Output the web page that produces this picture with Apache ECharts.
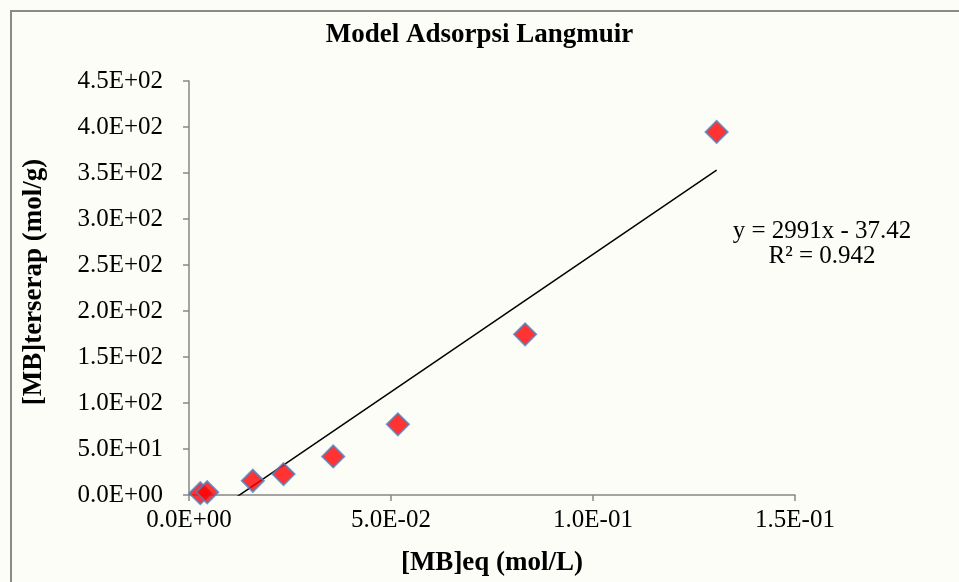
<!DOCTYPE html>
<html>
<head>
<meta charset="utf-8">
<script src="https://cdn.jsdelivr.net/npm/echarts@6/dist/echarts.min.js"></script>
<style>
  html, body { margin: 0; padding: 0; background: #fdfdf8; }
  #chart { width: 959px; height: 582px; }
</style>
</head>
<body>
<div id="chart"></div>
<script>
// [MB]eq (mol/L) and [MB]terserap (mol/g)
const eqValues = [0.0028, 0.0045, 0.0158, 0.0234, 0.0357, 0.0517, 0.0832, 0.1306];
const adsorbed = [2, 3, 15.5, 22.7, 41.9, 76.8, 174.6, 394.7];

// linear trendline printed on the chart
const slope = 2991;
const intercept = -37.42;
const rSquared = 0.942;

const serif = '"Liberation Serif", "Times New Roman", serif';

function sci(v) {
  // 4.5e+2 -> 4.5E+02
  const s = Number(v).toExponential(1);
  const parts = s.split('e');
  const sign = parts[1][0];
  let exp = parts[1].slice(1);
  if (exp.length < 2) exp = '0' + exp;
  return parts[0] + 'E' + sign + exp;
}

const points = eqValues.map((x, i) => [x, adsorbed[i]]);
const xMin = Math.min(...eqValues);
const xMax = Math.max(...eqValues);
const trend = [[xMin, slope * xMin + intercept], [xMax, slope * xMax + intercept]];

const chart = echarts.init(document.getElementById('chart'));
chart.setOption({
  backgroundColor: '#fdfdf8',
  animation: false,
  title: {
    text: 'Model Adsorpsi Langmuir',
    left: 'center',
    top: 17,
    textStyle: {fontFamily: serif, fontSize: 27, fontWeight: 'bold', color: '#000'}
  },
  grid: {left: 189, right: 164, top: 81, bottom: 85},
  xAxis: {
    type: 'value',
    min: 0,
    max: 0.15,
    interval: 0.05,
    name: '[MB]eq (mol/L)',
    nameLocation: 'middle',
    nameGap: 55,
    nameTextStyle: {fontFamily: serif, fontSize: 27, fontWeight: 'bold', color: '#000'},
    axisLine: {lineStyle: {color: '#868686', width: 1.5}},
    axisTick: {show: true, inside: false, length: 6, lineStyle: {color: '#868686', width: 1.5}},
    axisLabel: {formatter: sci, fontFamily: serif, fontSize: 25, color: '#000', margin: 13},
    splitLine: {show: false}
  },
  yAxis: {
    type: 'value',
    min: 0,
    max: 450,
    interval: 50,
    name: '[MB]terserap (mol/g)',
    nameLocation: 'middle',
    nameGap: 141,
    nameRotate: 90,
    nameTextStyle: {fontFamily: serif, fontSize: 27, fontWeight: 'bold', color: '#000', padding: [0, 0, 0, 12]},
    axisLine: {show: true, lineStyle: {color: '#868686', width: 1.5}},
    axisTick: {show: true, inside: false, length: 6, lineStyle: {color: '#868686', width: 1.5}},
    axisLabel: {formatter: sci, fontFamily: serif, fontSize: 25, color: '#000', margin: 26},
    splitLine: {show: false}
  },
  graphic: [
    {
      type: 'rect',
      shape: {x: 11, y: 11, width: 1000, height: 700},
      style: {fill: 'none', stroke: '#8a8a86', lineWidth: 2},
      silent: true
    },
    {
      type: 'text',
      x: 822,
      y: 219,
      style: {
        text: 'y = ' + slope + 'x - ' + Math.abs(intercept) + '\nR² = ' + rSquared,
        font: '25px ' + serif,
        fill: '#000',
        align: 'center',
        lineHeight: 25
      }
    }
  ],
  series: [
    {
      type: 'line',
      data: trend,
      showSymbol: false,
      clip: true,
      lineStyle: {color: '#000', width: 1.5},
      z: 2
    },
    {
      type: 'scatter',
      data: points,
      symbol: 'diamond',
      symbolSize: 22,
      itemStyle: {color: '#ff0000', borderColor: '#4f81bd', borderWidth: 2},
      z: 3
    }
  ]
});
</script>
</body>
</html>
